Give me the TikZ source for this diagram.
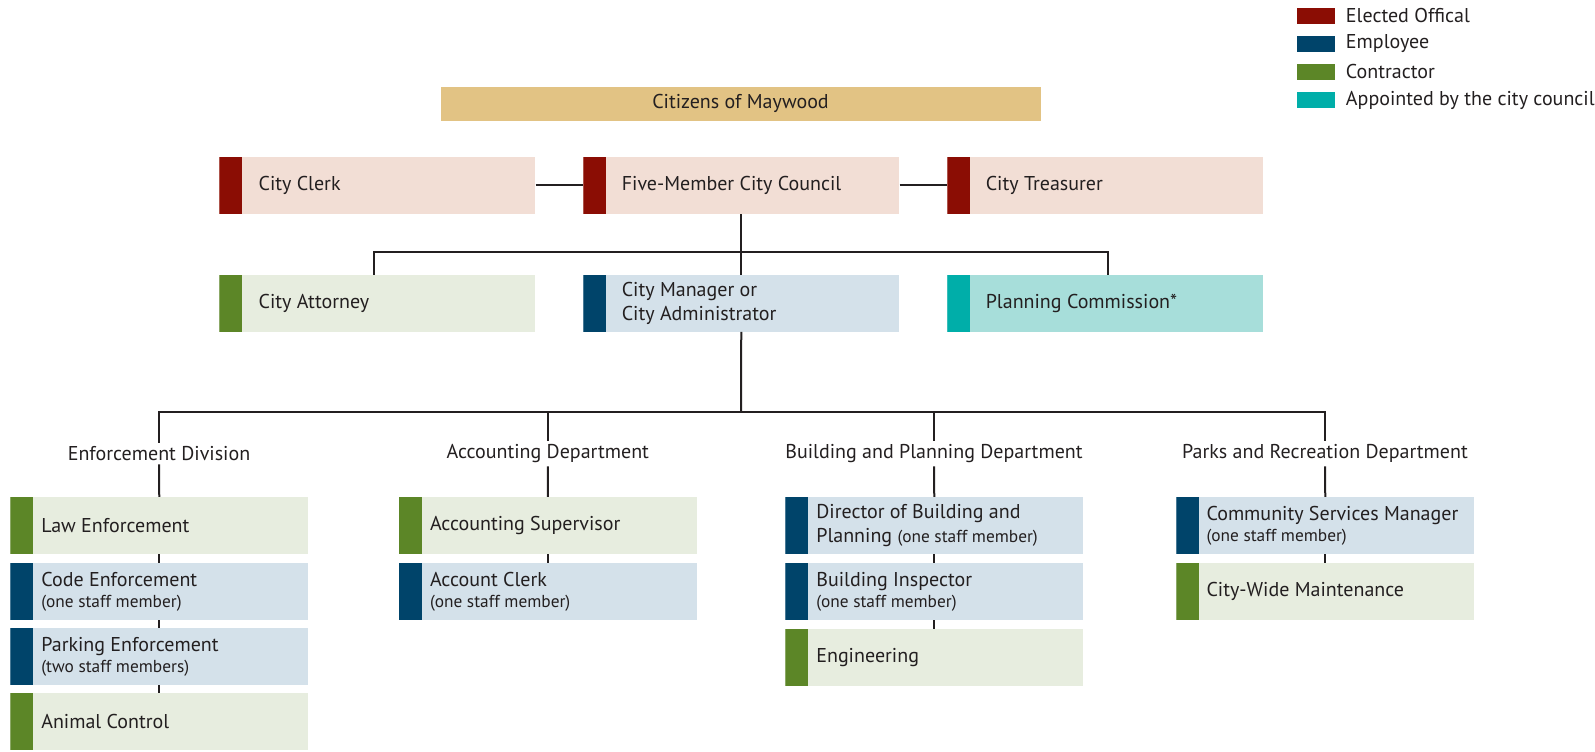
\documentclass[tikz,border=0pt]{standalone}
\usepackage{fontspec}
\setmainfont{PT Sans}
\definecolor{elect}{HTML}{8B0D04}
\definecolor{electbg}{HTML}{F2DED5}
\definecolor{emp}{HTML}{00446A}
\definecolor{empbg}{HTML}{D4E1EA}
\definecolor{con}{HTML}{5C8627}
\definecolor{conbg}{HTML}{E7EDDF}
\definecolor{appt}{HTML}{00AEA9}
\definecolor{apptbg}{HTML}{A7DEDA}
\definecolor{citz}{HTML}{E2C384}
\definecolor{ink}{HTML}{231F20}
\newcommand\mainsize{\fontsize{15}{18}\selectfont}
\newcommand\staff[1]{{\fontsize{13}{15}\selectfont #1}}
\tikzset{
  bar/.style={path picture={\fill[#1] (path picture bounding box.south west)
      rectangle ([xshift=17.25pt]path picture bounding box.north west);}},
  unitbox/.style={rectangle, inner sep=0pt, minimum height=42.6pt, anchor=west},
  wide/.style={unitbox, minimum width=237pt},
  narrow/.style={unitbox, minimum width=223.5pt},
  elected/.style={fill=electbg, bar=elect},
  employee/.style={fill=empbg, bar=emp},
  contractor/.style={fill=conbg, bar=con},
  appointed/.style={fill=apptbg, bar=appt},
  lbl/.style={anchor=west, inner sep=0pt, align=left, text=ink, font=\mainsize},
  division/.style={inner sep=2.5pt, text=ink, font=\mainsize},
  key/.style={rectangle, inner sep=0pt, minimum width=28.7pt, minimum height=12pt, anchor=west},
  link/.style={draw=ink, line width=1.5pt},
}
\begin{document}
\begin{tikzpicture}[x=0.75pt,y=-0.75pt]
\useasboundingbox (0,0) rectangle (1595,752);

% legend
\node[key, fill=elect] (k1) at (1296.7,16) {};
\node[key, fill=emp]   (k2) at (1296.7,44) {};
\node[key, fill=con]   (k3) at (1296.7,72) {};
\node[key, fill=appt]  (k4) at (1296.7,100) {};
\node[lbl] (k1t) at (1345.7,16)  {Elected Offical};
\node[lbl] (k2t) at (1345.7,44)  {Employee};
\node[lbl] (k3t) at (1345.7,72)  {Contractor};
\node[lbl] (k4t) at (1345.7,100) {Appointed by the city council};

% citizens
\node[rectangle, fill=citz, minimum width=450pt, minimum height=25.9pt, inner sep=0pt,
      text=ink, font=\mainsize] (citizens) at (740.5,103.8) {\raisebox{-1.5pt}{Citizens of Maywood}};

% elected officials
\node[wide, elected] (clerk)     at (219,185.4) {};
\node[wide, elected] (council)   at (583,185.4) {};
\node[wide, elected] (treasurer) at (947,185.4) {};
\node[lbl] (clerkT)     at ([xshift=29.5pt]clerk.west)     {City Clerk};
\node[lbl] (councilT)   at ([xshift=28.9pt]council.west)   {Five-Member City Council};
\node[lbl] (treasurerT) at ([xshift=28.9pt]treasurer.west) {City Treasurer};

% council appointees
\node[wide, contractor] (attorney) at (219,303.3) {};
\node[wide, employee]   (manager)  at (583,303.3) {};
\node[wide, appointed]  (planning) at (947,303.3) {};
\node[lbl] (attorneyT) at ([xshift=29.5pt]attorney.west) {City Attorney};
\node[lbl] (managerT)  at ([xshift=28.9pt]manager.west)  {City Manager or\\City Administrator};
\node[lbl] (planningT) at ([xshift=28.9pt]planning.west) {Planning Commission*};

% departments
\node[division] (enf)   at (159,453.6)    {Enforcement Division};
\node[division] (acct)  at (547.8,453.6)  {Accounting Department};
\node[division] (build) at (934,453.6)    {Building and Planning Department};
\node[division] (parks) at (1325,453.6)   {Parks and Recreation Department};

% enforcement division
\node[narrow, contractor] (law)     at (10,525.5) {};
\node[narrow, employee]   (code)    at (10,591.5) {};
\node[narrow, employee]   (parking) at (10,656.5) {};
\node[narrow, contractor] (animal)  at (10,721.5) {};
\node[lbl] (lawT)     at ([xshift=23.3pt]law.west)     {Law Enforcement};
\node[lbl] (codeT)    at ([xshift=23.3pt]code.west)    {Code Enforcement\\[-2.5pt]\staff{(one staff member)}};
\node[lbl] (parkingT) at ([xshift=23.3pt]parking.west) {Parking Enforcement\\[-2.5pt]\staff{(two staff members)}};
\node[lbl] (animalT)  at ([xshift=23.3pt]animal.west)  {Animal Control};

% accounting department
\node[narrow, contractor] (supervisor) at (398.7,525.5) {};
\node[narrow, employee]   (aclerk)     at (398.7,591.5) {};
\node[lbl] (supervisorT) at ([xshift=23.3pt]supervisor.west) {Accounting Supervisor};
\node[lbl] (aclerkT)     at ([xshift=23.3pt]aclerk.west)     {Account Clerk\\[-2.5pt]\staff{(one staff member)}};

% building and planning department
\node[narrow, employee]   (director)  at (785,525.5) {};
\node[narrow, employee]   (inspector) at (785,591.5) {};
\node[narrow, contractor] (engineer)  at (785,657.3) {};
\node[lbl] (directorT)  at ([xshift=23.3pt]director.west)  {Director of Building and\\Planning \staff{(one staff member)}};
\node[lbl] (inspectorT) at ([xshift=23.3pt]inspector.west) {Building Inspector\\[-2.5pt]\staff{(one staff member)}};
\node[lbl] (engineerT)  at ([xshift=23.3pt]engineer.west)  {Engineering};

% parks and recreation department
\node[narrow, employee]   (community)   at (1176,525.5) {};
\node[narrow, contractor] (maintenance) at (1176,591.5) {};
\node[lbl] (communityT)   at ([xshift=22.7pt]community.west)   {Community Services Manager\\[-2.5pt]\staff{(one staff member)}};
\node[lbl] (maintenanceT) at ([xshift=22.7pt]maintenance.west) {City-Wide Maintenance};

% connectors
\coordinate (bus1) at (741,252.3);
\coordinate (bus2) at (741,412);
\draw[link] (clerk.east) -- (council.west);
\draw[link] (council.east) -- (treasurer.west);
\draw[link] (council.south) -- (manager.north);
\draw[link] ([xshift=-2.5pt]attorney.north) |- (bus1) -| ([xshift=2pt]planning.north);
\draw[link] (manager.south) -- (bus2);
\draw[link] (enf.north) |- (bus2) -| (parks.north);
\draw[link] (acct.north) -- (acct.north |- bus2);
\draw[link] (build.north) -- (build.north |- bus2);
\draw[link] (enf.south) -- (law.north);
\draw[link] (acct.south) -- (supervisor.north);
\draw[link] (build.south) -- (director.north);
\draw[link] (parks.south) -- (community.north);
\draw[link] (law.south) -- (code.north);
\draw[link] (code.south) -- (parking.north);
\draw[link] (parking.south) -- (animal.north);
\draw[link] (supervisor.south) -- (aclerk.north);
\draw[link] (director.south) -- (inspector.north);
\draw[link] (inspector.south) -- (engineer.north);
\draw[link] (community.south) -- (maintenance.north);
\end{tikzpicture}
\end{document}
